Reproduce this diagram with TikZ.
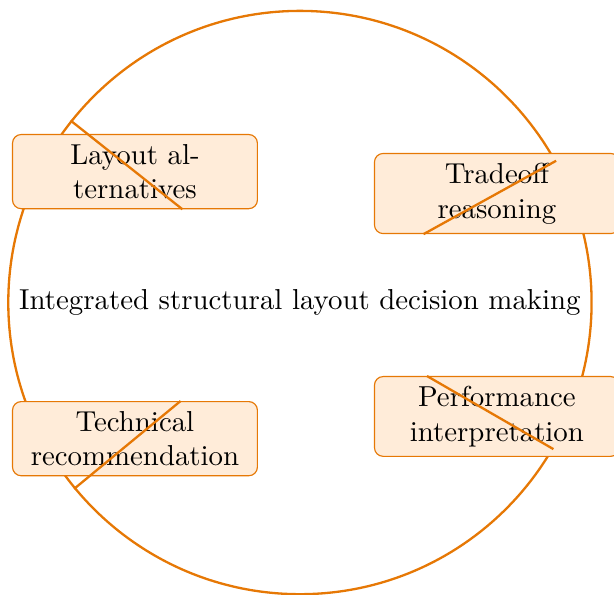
\documentclass[tikz,border=0pt]{standalone}
\usepackage{tikz}
\usetikzlibrary{positioning}
\definecolor{burntorange}{HTML}{E67805}
\definecolor{peach}{HTML}{FFECD9}

\begin{document}
\begin{tikzpicture}[hub/.style={circle,draw=burntorange,thick,inner sep=3.8pt},
		stage/.style={draw=burntorange,fill=peach,rounded corners=3pt,text width=2.75cm,align=center},
		link/.style={draw=burntorange,thick}]
		\useasboundingbox (-104pt,-101.1pt) rectangle (108.9pt,104.9pt);
		\node[hub] (core) at (0,0) {Integrated structural layout decision making};
		\node[stage] (alternatives) at (-57.2pt,45.4pt) {Layout alternatives};
		\node[stage] (tradeoff) at (68.3pt,37.8pt) {Tradeoff reasoning};
		\node[stage] (performance) at (68.3pt,-39.5pt) {Performance interpretation};
		\node[stage] (recommendation) at (-57.2pt,-47.2pt) {Technical recommendation};
		\foreach \s in {alternatives,tradeoff,performance,recommendation}
			\draw[link] (core) -- (\s);
	\end{tikzpicture}
\end{document}
